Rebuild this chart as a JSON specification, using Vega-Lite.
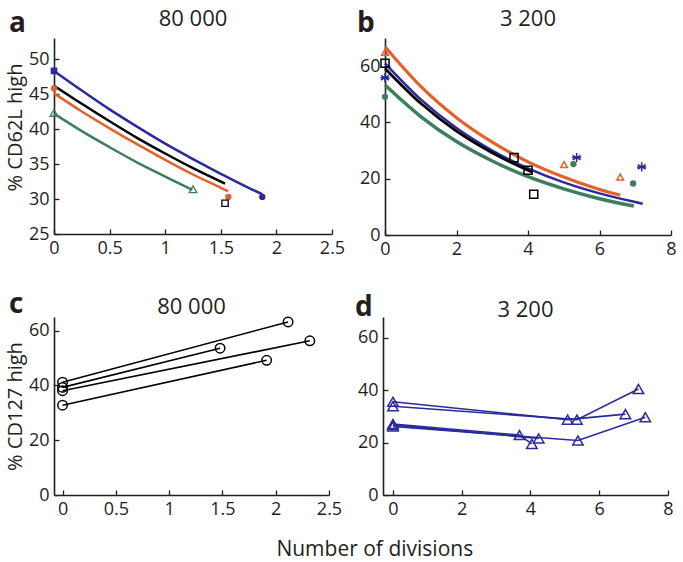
{
  "$schema": "https://vega.github.io/schema/vega-lite/v6.json",
  "padding": {"left": 5, "top": 8, "right": 4, "bottom": 0},
  "title": {"text": "Number of divisions", "orient": "bottom", "anchor": "middle", "fontSize": 21, "fontWeight": "normal", "offset": 21, "dx": 34},
  "spacing": 33,
  "datasets": {
    "aCurves": [
      {"series": "s1", "x": 0, "y": 48.3}, {"series": "s1", "x": 0.25, "y": 45.5}, {"series": "s1", "x": 0.5, "y": 42.8}, {"series": "s1", "x": 0.75, "y": 40.3}, {"series": "s1", "x": 1, "y": 37.9}, {"series": "s1", "x": 1.25, "y": 35.7}, {"series": "s1", "x": 1.5, "y": 33.6}, {"series": "s1", "x": 1.75, "y": 31.6}, {"series": "s1", "x": 1.873, "y": 30.7},
      {"series": "s2", "x": 0, "y": 46.2}, {"series": "s2", "x": 0.25, "y": 43.6}, {"series": "s2", "x": 0.5, "y": 41.1}, {"series": "s2", "x": 0.75, "y": 38.7}, {"series": "s2", "x": 1, "y": 36.5}, {"series": "s2", "x": 1.25, "y": 34.4}, {"series": "s2", "x": 1.538, "y": 32.2},
      {"series": "s3", "x": 0, "y": 45.1}, {"series": "s3", "x": 0.25, "y": 42.5}, {"series": "s3", "x": 0.5, "y": 40.1}, {"series": "s3", "x": 0.75, "y": 37.8}, {"series": "s3", "x": 1, "y": 35.6}, {"series": "s3", "x": 1.25, "y": 33.5}, {"series": "s3", "x": 1.5, "y": 31.6}, {"series": "s3", "x": 1.565, "y": 31.1},
      {"series": "s4", "x": 0, "y": 42.2}, {"series": "s4", "x": 0.25, "y": 39.7}, {"series": "s4", "x": 0.5, "y": 37.4}, {"series": "s4", "x": 0.75, "y": 35.2}, {"series": "s4", "x": 1, "y": 33.2}, {"series": "s4", "x": 1.244, "y": 31.3}
    ],
    "aPoints": [
      {"series": "s1", "phase": "start", "x": 0, "y": 48.3},
      {"series": "s1", "phase": "end", "x": 1.873, "y": 30.3},
      {"series": "s2", "phase": "end", "x": 1.538, "y": 29.4},
      {"series": "s3", "phase": "start", "x": 0, "y": 45.8},
      {"series": "s3", "phase": "end", "x": 1.568, "y": 30.3},
      {"series": "s4", "phase": "start", "x": 0, "y": 42.3},
      {"series": "s4", "phase": "end", "x": 1.25, "y": 31.4}
    ],
    "bCurves": [
      {"series": "s1", "x": 0, "y": 61.0}, {"series": "s1", "x": 1, "y": 48.2}, {"series": "s1", "x": 2, "y": 38.0}, {"series": "s1", "x": 3, "y": 30.0}, {"series": "s1", "x": 4, "y": 23.7}, {"series": "s1", "x": 5, "y": 18.7}, {"series": "s1", "x": 6, "y": 14.8}, {"series": "s1", "x": 7, "y": 11.7}, {"series": "s1", "x": 7.21, "y": 11.1},
      {"series": "s2", "x": 0, "y": 59.2}, {"series": "s2", "x": 1, "y": 46.8}, {"series": "s2", "x": 2, "y": 36.9}, {"series": "s2", "x": 3, "y": 29.2}, {"series": "s2", "x": 4, "y": 23.0}, {"series": "s2", "x": 4.13, "y": 22.3},
      {"series": "s3", "x": 0, "y": 66.9}, {"series": "s3", "x": 1, "y": 52.8}, {"series": "s3", "x": 2, "y": 41.7}, {"series": "s3", "x": 3, "y": 33.0}, {"series": "s3", "x": 4, "y": 26.0}, {"series": "s3", "x": 5, "y": 20.6}, {"series": "s3", "x": 6, "y": 16.2}, {"series": "s3", "x": 6.58, "y": 14.2},
      {"series": "s4", "x": 0, "y": 53.3}, {"series": "s4", "x": 1, "y": 42.1}, {"series": "s4", "x": 2, "y": 33.2}, {"series": "s4", "x": 3, "y": 26.3}, {"series": "s4", "x": 4, "y": 20.7}, {"series": "s4", "x": 5, "y": 16.4}, {"series": "s4", "x": 6, "y": 12.9}, {"series": "s4", "x": 6.96, "y": 10.3}
    ],
    "bPoints": [
      {"series": "s3", "x": 0, "y": 64.9}, {"series": "s3", "x": 5.01, "y": 25.0}, {"series": "s3", "x": 6.58, "y": 20.6},
      {"series": "s2", "x": 0, "y": 61.0}, {"series": "s2", "x": 3.61, "y": 27.5}, {"series": "s2", "x": 4.0, "y": 23.0}, {"series": "s2", "x": 4.16, "y": 14.5},
      {"series": "s1", "x": 0, "y": 55.9}, {"series": "s1", "x": 5.36, "y": 27.5}, {"series": "s1", "x": 7.18, "y": 24.2},
      {"series": "s4", "x": 0, "y": 49.1}, {"series": "s4", "x": 5.27, "y": 25.2}, {"series": "s4", "x": 6.94, "y": 18.3}
    ],
    "cLines": [
      {"id": "c1", "x": 0, "y": 41.2}, {"id": "c1", "x": 2.116, "y": 63.2},
      {"id": "c2", "x": 0, "y": 39.3}, {"id": "c2", "x": 1.478, "y": 53.6},
      {"id": "c3", "x": 0, "y": 38.1}, {"id": "c3", "x": 2.32, "y": 56.3},
      {"id": "c4", "x": 0, "y": 32.8}, {"id": "c4", "x": 1.915, "y": 49.2}
    ],
    "dLines": [
      {"id": "u1", "x": 0, "y": 35.6}, {"id": "u1", "x": 5.08, "y": 28.8}, {"id": "u1", "x": 6.76, "y": 30.9},
      {"id": "u2", "x": 0, "y": 33.9}, {"id": "u2", "x": 5.35, "y": 28.8}, {"id": "u2", "x": 7.14, "y": 40.5},
      {"id": "l1", "x": 0, "y": 27.1}, {"id": "l1", "x": 3.68, "y": 22.9}, {"id": "l1", "x": 4.04, "y": 19.5},
      {"id": "l2", "x": 0, "y": 26.8}, {"id": "l2", "x": 4.24, "y": 21.6},
      {"id": "l3", "x": 0, "y": 26.2}, {"id": "l3", "x": 5.38, "y": 20.8}, {"id": "l3", "x": 7.34, "y": 29.7}
    ]
  },
  "vconcat": [
    {
      "spacing": 12,
      "hconcat": [
        {
          "title": {"text": "a", "anchor": "start", "frame": "group", "fontSize": 28, "fontWeight": "bold", "dy": 30, "dx": -45, "offset": 0},
          "vconcat": [
            {
              "title": {"text": "80 000", "fontSize": 22, "fontWeight": "normal", "offset": 7},
              "width": 278, "height": 196,
              "encoding": {
                "x": {"field": "x", "type": "quantitative", "scale": {"domain": [0, 2.5], "nice": false, "zero": false}, "axis": {"values": [0, 0.5, 1, 1.5, 2, 2.5], "format": "~g", "title": null, "labelOverlap": false}},
                "y": {"field": "y", "type": "quantitative", "scale": {"domain": [25, 53], "nice": false, "zero": false}, "axis": {"values": [25, 30, 35, 40, 45, 50], "title": "% CD62L high", "labelOverlap": false, "titleY": 89}},
                "color": {"field": "series", "type": "nominal", "scale": {"domain": ["s1", "s2", "s3", "s4"], "range": ["#2a2a9c", "#000000", "#e3612b", "#3d7f5c"]}, "legend": null}
              },
              "layer": [
                {
                  "data": {"name": "aCurves"},
                  "mark": {"type": "line", "strokeWidth": 2.5, "interpolate": "monotone"}
                },
                {
                  "data": {"name": "aPoints"},
                  "transform": [{"filter": "datum.series == 's1' && datum.phase == 'start'"}],
                  "mark": {"type": "point", "shape": "square", "filled": true, "size": 45, "opacity": 1}
                },
                {
                  "data": {"name": "aPoints"},
                  "transform": [{"filter": "(datum.series == 's1' && datum.phase == 'end') || datum.series == 's3'"}],
                  "mark": {"type": "point", "shape": "circle", "filled": true, "size": 40, "opacity": 1}
                },
                {
                  "data": {"name": "aPoints"},
                  "transform": [{"filter": "datum.series == 's2'"}],
                  "mark": {"type": "point", "shape": "square", "filled": false, "size": 40, "strokeWidth": 1.3, "opacity": 1}
                },
                {
                  "data": {"name": "aPoints"},
                  "transform": [{"filter": "datum.series == 's4'"}],
                  "mark": {"type": "point", "shape": "triangle-up", "filled": false, "size": 60, "strokeWidth": 1.3, "opacity": 1}
                }
              ]
            }
          ]
        },
        {
          "title": {"text": "b", "anchor": "start", "frame": "group", "fontSize": 28, "fontWeight": "bold", "dy": 30, "dx": -28, "offset": 0},
          "vconcat": [
            {
              "title": {"text": "3 200", "fontSize": 22, "fontWeight": "normal", "offset": 7},
              "width": 286, "height": 197,
              "encoding": {
                "x": {"field": "x", "type": "quantitative", "scale": {"domain": [0, 8], "nice": false, "zero": false}, "axis": {"values": [0, 2, 4, 6, 8], "title": null, "labelOverlap": false}},
                "y": {"field": "y", "type": "quantitative", "scale": {"domain": [0, 70], "nice": false, "zero": false}, "axis": {"values": [0, 20, 40, 60], "title": null, "labelOverlap": false}},
                "color": {"field": "series", "type": "nominal", "scale": {"domain": ["s1", "s2", "s3", "s4"], "range": ["#2a2a9c", "#000000", "#e3612b", "#3d7f5c"]}, "legend": null}
              },
              "layer": [
                {
                  "data": {"name": "bCurves"},
                  "mark": {"type": "line", "interpolate": "monotone"},
                  "encoding": {
                    "strokeWidth": {"field": "series", "type": "nominal", "scale": {"domain": ["s1", "s2", "s3", "s4"], "range": [2.5, 3.5, 2.5, 2.5]}, "legend": null},
                    "order": {"field": "x", "type": "quantitative"}
                  }
                },
                {
                  "data": {"name": "bPoints"},
                  "transform": [{"filter": "datum.series != 's4'"}],
                  "mark": {"type": "point", "filled": false, "strokeWidth": 1.5, "opacity": 1},
                  "encoding": {
                    "shape": {"field": "series", "type": "nominal", "scale": {"domain": ["s1", "s2", "s3"], "range": ["M0,-1L0,1M-0.87,-0.5L0.87,0.5M-0.87,0.5L0.87,-0.5M-1,0L1,0", "square", "triangle-up"]}, "legend": null},
                    "size": {"field": "series", "type": "nominal", "scale": {"domain": ["s1", "s2", "s3"], "range": [85, 45, 110]}, "legend": null}
                  }
                },
                {
                  "data": {"name": "bPoints"},
                  "transform": [{"filter": "datum.series == 's4'"}],
                  "mark": {"type": "point", "shape": "circle", "filled": true, "size": 40, "opacity": 1}
                }
              ]
            }
          ]
        }
      ]
    },
    {
      "spacing": 13,
      "hconcat": [
        {
          "title": {"text": "c", "anchor": "start", "frame": "group", "fontSize": 28, "fontWeight": "bold", "dy": 23, "dx": -45, "offset": 0},
          "vconcat": [
            {
              "title": {"text": "80 000", "fontSize": 22, "fontWeight": "normal", "offset": -5},
              "width": 275, "height": 178,
              "data": {"name": "cLines"},
              "encoding": {
                "x": {"field": "x", "type": "quantitative", "scale": {"domain": [-0.08, 2.5], "nice": false, "zero": false}, "axis": {"values": [0, 0.5, 1, 1.5, 2, 2.5], "format": "~g", "title": null, "labelOverlap": false}},
                "y": {"field": "y", "type": "quantitative", "scale": {"domain": [0, 65], "nice": false, "zero": false}, "axis": {"values": [0, 20, 40, 60], "title": "% CD127 high", "labelOverlap": false}},
                "detail": {"field": "id", "type": "nominal"}
              },
              "layer": [
                {"mark": {"type": "line", "color": "#000000", "strokeWidth": 1.6}},
                {"mark": {"type": "point", "shape": "circle", "filled": false, "color": "#000000", "size": 90, "strokeWidth": 1.5, "opacity": 1}}
              ]
            }
          ]
        },
        {
          "title": {"text": "d", "anchor": "start", "frame": "group", "fontSize": 28, "fontWeight": "bold", "dy": 23, "dx": -28, "offset": 0},
          "vconcat": [
            {
              "title": {"text": "3 200", "fontSize": 22, "fontWeight": "normal", "offset": -5},
              "width": 285, "height": 178,
              "data": {"name": "dLines"},
              "encoding": {
                "x": {"field": "x", "type": "quantitative", "scale": {"domain": [-0.29, 8], "nice": false, "zero": false}, "axis": {"values": [0, 2, 4, 6, 8], "title": null, "labelOverlap": false}},
                "y": {"field": "y", "type": "quantitative", "scale": {"domain": [0, 68], "nice": false, "zero": false}, "axis": {"values": [0, 20, 40, 60], "title": null, "labelOverlap": false}},
                "detail": {"field": "id", "type": "nominal"}
              },
              "layer": [
                {"mark": {"type": "line", "color": "#2a2a9c", "strokeWidth": 1.6}},
                {"mark": {"type": "point", "shape": "triangle-up", "filled": false, "color": "#2a2a9c", "size": 110, "strokeWidth": 1.5, "opacity": 1}}
              ]
            }
          ]
        }
      ]
    }
  ],
  "config": {
    "font": "Open Sans",
    "view": {"stroke": null},
    "axis": {
      "grid": false,
      "domainColor": "#231f20", "domainWidth": 1.6,
      "tickColor": "#231f20", "tickWidth": 1.3, "tickSize": -5,
      "labelPadding": 10, "labelFont": "Open Sans", "labelFontSize": 18, "labelColor": "#231f20",
      "titleFont": "Open Sans", "titleFontSize": 20, "titleFontWeight": "normal", "titleColor": "#231f20", "titlePadding": 3,
      "labelFlush": false, "labelOverlap": false
    },
    "title": {"font": "Open Sans", "color": "#231f20"}
  }
}
